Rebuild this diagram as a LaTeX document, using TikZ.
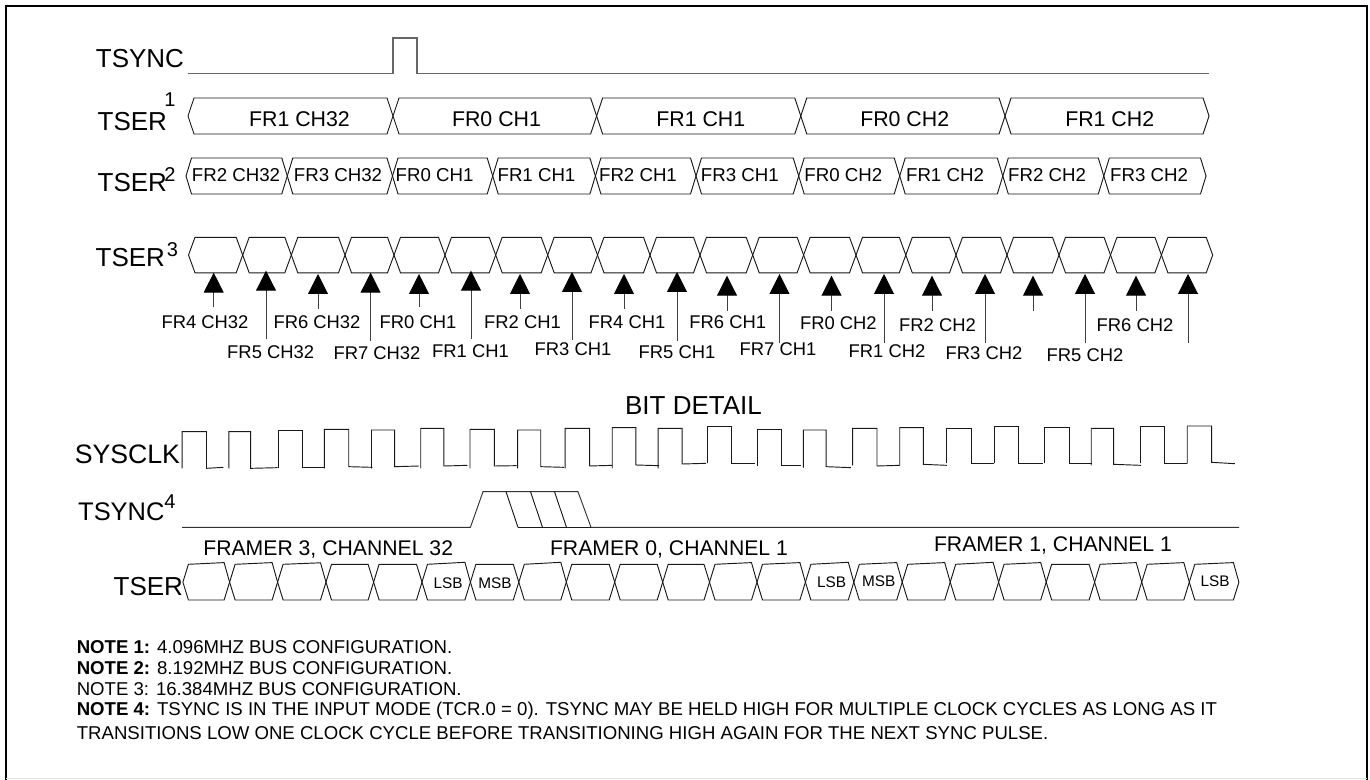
\documentclass[tikz,border=0pt]{standalone}
\usepackage{fontspec}
\setmainfont{Liberation Sans}
\usetikzlibrary{arrows.meta}
\tikzset{
  x=0.75pt,y=-0.75pt,
  frameline/.style={black,line width=1.5pt},
  wave/.style={black!90,line width=0.7pt,line join=miter},
  syncwave/.style={black!60,line width=0.9pt},
  sigarrow/.style={black!75,line width=0.7pt,-{Triangle[length=15pt,width=15pt,black]}},
  txt/.style={inner sep=0pt,outer sep=0pt,text=black},
  biglbl/.style={txt,font=\fontsize{19.5}{22}\selectfont},
  suplbl/.style={txt,font=\fontsize{15}{17}\selectfont},
  rowa/.style={txt,font=\fontsize{16}{18}\selectfont},
  rowb/.style={txt,font=\fontsize{14}{16}\selectfont},
  rowc/.style={txt,font=\fontsize{13.8}{16}\selectfont},
  bitlbl/.style={txt,font=\fontsize{11.5}{13}\selectfont},
  framerlbl/.style={txt,font=\fontsize{15.9}{18}\selectfont},
  notelbl/.style={txt,anchor=west,font=\fontsize{13.95}{16}\selectfont},
}
% one data cell of a bus: from crossing a to crossing b
\newcommand{\hexseg}[6]{%
  \draw[wave] (#1,{(#3+#4)/2}) -- ({#1+#6},#3) -- ({#2-#6},{#3-#5}) -- (#2,{(#3+#4)/2})
    -- ({#2-#6},#4) -- ({#1+#6},#4) -- cycle;}
% a whole bus row: top, bottom, half-width of the crossing, first tip, remaining crossings
\newcommand{\hexrow}[5]{%
  \foreach \cc [remember=\cc as \pp (initially #4)] in {#5} {\hexseg{\pp}{\cc}{#1}{#2}{0}{#3}}}
\begin{document}
\begin{tikzpicture}
\useasboundingbox (0,0) rectangle (1370,780);
\fill[white] (0,0) rectangle (1370,780);
% frame
\coordinate (fa) at (6,780); \coordinate (fb) at (6,6);
\coordinate (fc) at (1367,6); \coordinate (fd) at (1367,780);
\draw[frameline] (fa) -- (fb) -- (fc) -- (fd);
\draw[black!12,line width=0.6pt] (6,778) -- (1367,778);

% TSYNC
\node[biglbl,anchor=east] (ltsync) at (184,59) {TSYNC};
\draw[syncwave] (188,73.5) -- (393,73.5) -- (393,38) -- (417,38) -- (417,73.5) -- (1209,73.5);

% TSER 1
\node[biglbl,anchor=east] (ltsera) at (167,122) {TSER};
\node[suplbl] (supa) at (170,100) {1};
\hexrow{98}{134}{6}{188}{393,596.6,800.8,1005,1209}
\foreach \n/\xx/\tt in {a/299.5/FR1 CH32,b/496.5/FR0 CH1,c/700.8/FR1 CH1,d/904.7/FR0 CH2,e/1109.7/FR1 CH2}
  \node[rowa] (ra\n) at (\xx,119) {\tt};

% TSER 2
\node[biglbl,anchor=east] (ltserb) at (167,183) {TSER};
\node[suplbl] (supb) at (170,175) {2};
\hexrow{158}{194}{5.5}{186}{287.3,392.5,492.7,595.4,696,798.7,899.7,1002.8,1103.8,1206}
\foreach \n/\xx/\tt in {a/236/FR2 CH32,b/338/FR3 CH32,c/434.6/FR0 CH1,d/536.5/FR1 CH1,e/638/FR2 CH1,f/739.8/FR3 CH1,g/843.3/FR0 CH2,h/945/FR1 CH2,i/1047/FR2 CH2,j/1149/FR3 CH2}
  \node[rowb] (rb\n) at (\xx,175) {\tt};

% TSER 3
\node[biglbl,anchor=east] (ltserc) at (165,258) {TSER};
\node[suplbl] (supc) at (172.5,250) {3};
\hexrow{237.3}{272.8}{6.5}{188.5}{242.7,291.3,345,394,445,495.7,547.7,597.5,650,700,752.7,803.6,856,905.8,956,1007,1059,1110.5,1161.4,1212.7}
\foreach \xx/\tp/\tl [count=\i] in {213.7/272.7/306.7,266/270.7/339,318/274/309,370.6/272.7/340.7,419/274/306.7,471/270.7/339,520/274/309,572/272/340,624/274/309,677/272/340.7,727/275.7/310.7,779.5/274/342.7,831.5/275.7/310.7,884/274/342.7,932/275.7/310.7,985/274/342.7,1033/275.7/310.7,1085/274/342.7,1136/275.7/310.7,1188/274/342.7}{
  \coordinate (at\i) at (\xx,\tl);
  \coordinate (ah\i) at (\xx,\tp);
  \draw[sigarrow] (at\i) -- (ah\i);
}
\foreach \xx/\yy/\tt [count=\i] in {205/322/FR4 CH32,270.7/352/FR5 CH32,317/322/FR6 CH32,377/353/FR7 CH32,418/322/FR0 CH1,470.5/351/FR1 CH1,522.5/322/FR2 CH1,573/349/FR3 CH1,627/322/FR4 CH1,677/352/FR5 CH1,727.8/322/FR6 CH1,778/349/FR7 CH1,838.4/323/FR0 CH2,887/351/FR1 CH2,937.5/325/FR2 CH2,984/353/FR3 CH2,1085/355/FR5 CH2,1135/325/FR6 CH2}
  \node[rowc] (rc\i) at (\xx,\yy) {\tt};

% BIT DETAIL
\node[biglbl] (lbit) at (693.5,406) {BIT DETAIL};
\node[biglbl,anchor=east,font=\fontsize{20}{22}\selectfont] (lsys) at (180,454) {SYSCLK};

% SYSCLK: every pulse as drawn, rising edge, top, falling edge, low level, end of low level
\begin{scope}[shift={(60,380)},x=0.3157pt,y=-0.25pt]
\foreach \ra/\tp/\fa/\lo/\en/\le in {290/155/348/265/388/262,401/155/453/265/517/263,519/150/575/263/630/263,628/148/686/260/742/262,740/150/795/260/853/258,857/145/912/258/968/256,974/148/1032/258/1085/257,1087/150/1142/260/1197/262,1200/145/1258/258/1312/256,1312/143/1368/255/1423/257,1421/145/1478/252/1535/250}
  \draw[wave] (\ra,265) -- (\ra,\tp) -- (\fa,\tp) -- (\fa,\lo) -- (\en,\le);
\end{scope}
\begin{scope}[shift={(680,380)},x=0.3157pt,y=-0.25pt]
\foreach \ra/\tp/\fa/\lo/\en/\le in {65/140/122/250/178/250,184/148/242/257/287/257,293/150/347/260/406/263,410/145/468/258/522/256,522/143/578/253/634/256,632/145/692/250/745/250,748/140/805/250/862/250,866/143/925/250/978/250,977/145/1030/253/1095/256,1095/140/1152/250/1205/250,1205/138/1263/247/1318/251}
  \draw[wave] (\ra,\le) -- (\ra,\tp) -- (\fa,\tp) -- (\fa,\lo) -- (\en,\le);
\end{scope}

% TSYNC 4
\node[biglbl,anchor=east,font=\fontsize{19.1}{22}\selectfont] (ltsyncb) at (164.5,511.7) {TSYNC};
\node[suplbl] (supd) at (170,501.7) {4};
\draw[black!80,line width=0.7pt] (182,527.3) -- (470.4,527.3) -- (483,491.7) -- (578,491.7) -- (591,527.3) -- (1239,527.3);
\draw[wave] (506,491.7) -- (518,527.3);
\draw[wave] (530.5,491.7) -- (542.5,527.3);
\draw[wave] (554.5,491.7) -- (566.5,527.3);
\draw[wave] (518,527.3) -- (591,527.3);

% Bottom TSER
\node[framerlbl] (fa3) at (328.2,549) {FRAMER 3, CHANNEL 32};
\node[framerlbl] (fb0) at (669,549) {FRAMER 0, CHANNEL 1};
\node[framerlbl] (fc1) at (1053,545.7) {FRAMER 1, CHANNEL 1};
\node[biglbl,anchor=east] (ltserd) at (183,586.7) {TSER};
\foreach \a/\b/\t in {182.9/229.6/1.7,229.6/277.6/1.7,277.6/326/1.5,326/373.6/0,373.6/422/0,422/470.4/2,470.4/518.8/0,518.8/566.3/2,566.3/614.7/0,614.7/662.7/0,662.7/709.5/0,709.5/757/1.7,757/805.4/1.7,805.4/853.8/2,853.8/902.2/1.7,902.2/950.2/1.7,950.2/998.6/2,998.6/1046.2/1.7,1046.2/1094.6/0,1094.6/1141.7/1.7,1141.7/1189.3/1.7,1189.3/1238.9/1.7}
  {\hexseg{\a}{\b}{564.3}{600}{\t}{5.5}}
\node[bitlbl] (lsba) at (448,583) {LSB};
\node[bitlbl] (msba) at (495,583) {MSB};
\node[bitlbl] (lsbb) at (831.5,582) {LSB};
\node[bitlbl] (msbb) at (878.7,581) {MSB};
\node[bitlbl] (lsbc) at (1215,581) {LSB};

% Notes
\node[notelbl] (na) at (76.8,646.7) {\textbf{NOTE 1:} 4.096MHZ BUS CONFIGURATION.};
\node[notelbl] (nb) at (76.8,667.7) {\textbf{NOTE 2:} 8.192MHZ BUS CONFIGURATION.};
\node[notelbl] (nc) at (76.8,689.3) {NOTE 3: 16.384MHZ BUS CONFIGURATION.};
\node[notelbl] (nd) at (76.8,710.7) {\textbf{NOTE 4:} TSYNC IS IN THE INPUT MODE (TCR.0 = 0). TSYNC MAY BE HELD HIGH FOR MULTIPLE CLOCK CYCLES AS LONG AS IT};
\node[notelbl] (ne) at (76.8,732.7) {TRANSITIONS LOW ONE CLOCK CYCLE BEFORE TRANSITIONING HIGH AGAIN FOR THE NEXT SYNC PULSE.};
\end{tikzpicture}
\end{document}
